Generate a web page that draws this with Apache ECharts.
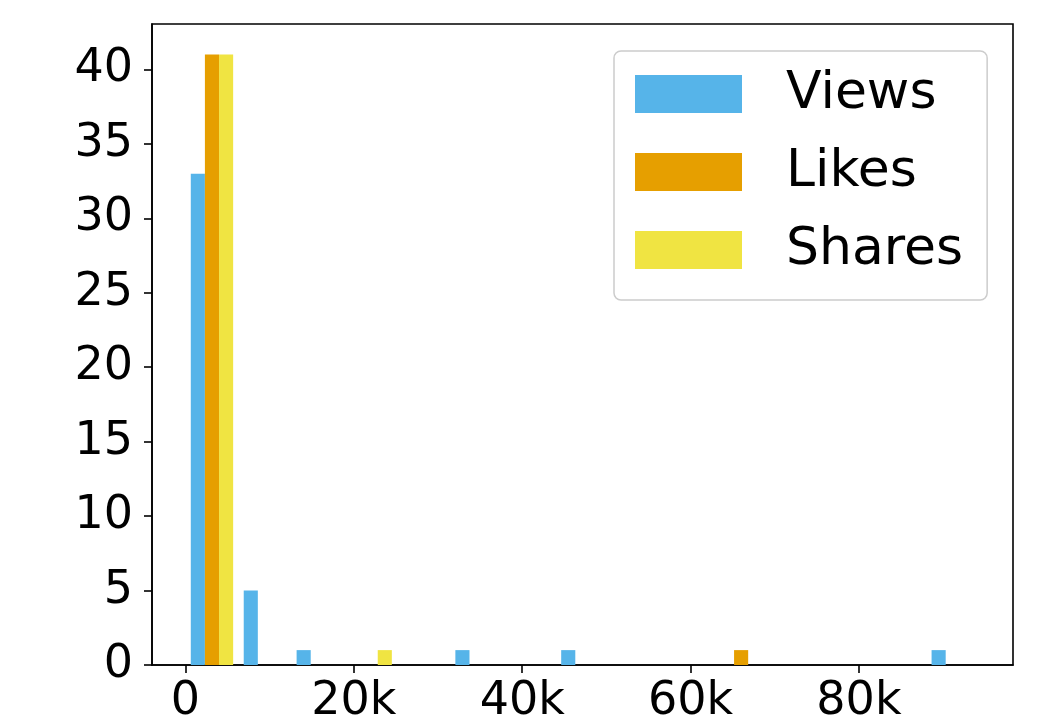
<!DOCTYPE html>
<html>
<head>
<meta charset="utf-8">
<script src="https://cdn.jsdelivr.net/npm/echarts@6/dist/echarts.min.js"></script>
<style>
  html, body { margin: 0; padding: 0; background: #ffffff; }
  #chart { width: 1051px; height: 723px; }
</style>
</head>
<body>
<div id="chart"></div>
<script>
// Histogram bin edges (engagement counts)
const binEdges = [0, 6290, 12570, 18860, 25140, 31430, 37720, 44000, 50290,
                  56570, 62860, 69150, 75430, 81720, 88000, 94290];

// Number of posts falling in each bin
const viewsCounts  = [33, 5, 1, 0, 0, 1, 0, 1, 0, 0, 0, 0, 0, 0, 1];
const likesCounts  = [41, 0, 0, 0, 0, 0, 0, 0, 0, 0, 1, 0, 0, 0, 0];
const sharesCounts = [41, 0, 0, 1, 0, 0, 0, 0, 0, 0, 0, 0, 0, 0, 0];

const seriesNames  = ['Views', 'Likes', 'Shares'];
const seriesColors = ['#56B4E9', '#E69F00', '#F0E442'];

// Tick positions
const xTicks = [0, 20000, 40000, 60000, 80000];
const yTicks = [0, 5, 10, 15, 20, 25, 30, 35, 40];

const FONT = 'DejaVu Sans';
const FS = 46;

function binData(counts) {
  return counts.map((c, i) => [binEdges[i], binEdges[i + 1], c]);
}

// Side-by-side bars: 80% of each bin shared among the three series
function makeRender(slot, nSlots) {
  return function (params, api) {
    const x0 = api.value(0), x1 = api.value(1), c = api.value(2);
    if (!c) return null;
    const w = x1 - x0;
    const bw = 0.8 * w / nSlots;
    const left = x0 + 0.1 * w + slot * bw;
    const p0 = api.coord([left, c]);
    const p1 = api.coord([left + bw, 0]);
    return {
      type: 'rect',
      shape: { x: p0[0], y: p0[1], width: p1[0] - p0[0], height: p1[1] - p0[1] },
      style: { fill: seriesColors[slot] }
    };
  };
}

const allCounts = [viewsCounts, likesCounts, sharesCounts];

const chart = echarts.init(document.getElementById('chart'), null, { renderer: 'canvas' });
chart.setOption({
  animation: false,
  backgroundColor: '#ffffff',
  textStyle: { fontFamily: FONT },
  grid: {
    left: 152, top: 24, width: 861, height: 641,
    outerBoundsMode: 'none',
    containLabel: false,
    show: true, borderColor: '#000000', borderWidth: 1.6,
    backgroundColor: 'transparent'
  },
  legend: {
    left: 614, top: 51,
    orient: 'vertical',
    icon: 'rect',
    itemWidth: 107, itemHeight: 38, itemGap: 26,
    padding: [17, 24, 24, 21],
    backgroundColor: 'rgba(255,255,255,0.85)',
    borderColor: '#cccccc', borderWidth: 1.5, borderRadius: 7,
    textStyle: {
      fontFamily: FONT, fontSize: 52, color: '#000000',
      padding: [0, 0, 0, 39]
    },
    data: seriesNames
  },
  xAxis: {
    type: 'value',
    min: -3979, max: 98302,
    axisLine: { show: true, onZero: false, lineStyle: { color: '#000000', width: 1.6 } },
    axisTick: { show: true, length: 8, lineStyle: { color: '#000000', width: 1.6 }, customValues: xTicks },
    axisLabel: {
      customValues: xTicks, margin: 14, color: '#000000', fontFamily: FONT, fontSize: FS,
      formatter: v => v === 0 ? '0' : (v / 1000) + 'k'
    },
    splitLine: { show: false }
  },
  yAxis: {
    type: 'value',
    min: 0, max: 43.05,
    axisLine: { show: true, onZero: false, lineStyle: { color: '#000000', width: 1.6 } },
    axisTick: { show: true, length: 8, lineStyle: { color: '#000000', width: 1.6 }, customValues: yTicks },
    axisLabel: {
      customValues: yTicks, margin: 19, color: '#000000', fontFamily: FONT, fontSize: FS
    },
    splitLine: { show: false }
  },
  series: seriesNames.map((name, k) => ({
    name: name,
    type: 'custom',
    itemStyle: { color: seriesColors[k] },
    renderItem: makeRender(k, seriesNames.length),
    encode: { x: [0, 1], y: 2 },
    data: binData(allCounts[k])
  }))
});
</script>
</body>
</html>
